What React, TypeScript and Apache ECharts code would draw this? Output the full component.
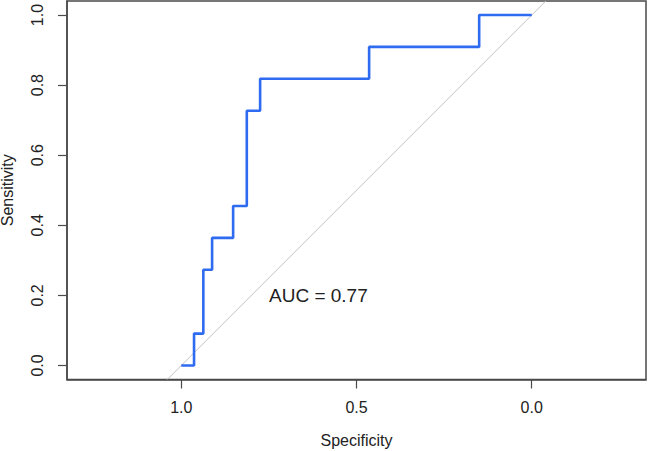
import React, { useEffect, useRef } from "react";
import * as echarts from "echarts";

// ROC curve corner points (specificity decreasing, sensitivity increasing)
const specificity = [1.0, 0.9635, 0.937, 0.912, 0.852, 0.813, 0.775, 0.464, 0.15, 0.0];
const sensitivity = [0.0, 0.091, 0.273, 0.364, 0.455, 0.727, 0.818, 0.909, 1.0, 1.0];

// Chance line endpoints (spans the full plot range)
const chanceSpec = [1.04, -0.04];
const chanceSens = [-0.04, 1.04];

const xTicks = [0, 0.5, 1.0];
const yTicks = [0, 0.2, 0.4, 0.6, 0.8, 1.0];
const aucLabel = "AUC = 0.77";

const FONT = "'Liberation Sans', Arial, Helvetica, sans-serif";
const AXIS_COLOR = "#4a4a4a";
const TEXT_COLOR = "#222";

export default function App() {
  const ref = useRef<HTMLDivElement>(null);

  useEffect(() => {
    if (!ref.current) return;
    const chart = echarts.init(ref.current, undefined, { renderer: "svg" });
    const roc = specificity.map((s, i) => [s, sensitivity[i]]);
    const chance = chanceSpec.map((s, i) => [s, chanceSens[i]]);

    chart.setOption({
      animation: false,
      backgroundColor: "#fff",
      grid: {
        left: 67,
        right: 2,
        top: 1,
        bottom: 71.5,
        containLabel: false,
        outerBoundsMode: "none",
        show: true,
        borderColor: AXIS_COLOR,
        borderWidth: 1.5,
        backgroundColor: "transparent",
      },
      xAxis: {
        type: "value",
        inverse: true,
        min: -0.326,
        max: 1.326,
        name: "Specificity",
        nameLocation: "middle",
        nameGap: 53,
        nameTextStyle: { fontFamily: FONT, fontSize: 16, color: TEXT_COLOR },
        axisLine: { show: true, onZero: false, lineStyle: { color: AXIS_COLOR, width: 1.5 } },
        axisTick: {
          show: true,
          length: 9,
          customValues: xTicks,
          lineStyle: { color: AXIS_COLOR, width: 1.2 },
        },
        axisLabel: {
          customValues: xTicks,
          margin: 20,
          fontFamily: FONT,
          fontSize: 16,
          color: TEXT_COLOR,
          formatter: (v: number) => v.toFixed(1),
        },
        splitLine: { show: false },
      },
      yAxis: {
        type: "value",
        min: -0.04,
        max: 1.04,
        name: "Sensitivity",
        nameLocation: "middle",
        nameRotate: 90,
        nameGap: 52,
        nameTextStyle: { fontFamily: FONT, fontSize: 16, color: TEXT_COLOR },
        axisLine: { show: true, onZero: false, lineStyle: { color: AXIS_COLOR, width: 1.5 } },
        axisTick: {
          show: true,
          length: 9,
          customValues: yTicks,
          lineStyle: { color: AXIS_COLOR, width: 1.2 },
        },
        axisLabel: {
          customValues: yTicks,
          rotate: 90,
          margin: 22,
          fontFamily: FONT,
          fontSize: 16,
          color: TEXT_COLOR,
          formatter: (v: number) => v.toFixed(1),
        },
        splitLine: { show: false },
      },
      series: [
        {
          type: "line",
          data: chance,
          symbol: "none",
          silent: true,
          lineStyle: { color: "#c0c0c0", width: 1 },
          z: 2,
        },
        {
          type: "line",
          data: roc,
          step: "end",
          symbol: "none",
          lineStyle: { color: "#2f6bf0", width: 2.6 },
          z: 3,
        },
      ],
      graphic: [
        {
          type: "text",
          left: 269,
          top: 286,
          style: {
            text: aucLabel,
            fontFamily: FONT,
            fontSize: 19,
            fill: TEXT_COLOR,
          },
        },
      ],
    });

    return () => chart.dispose();
  }, []);

  return (
    <div
      ref={ref}
      style={{ position: "fixed", left: 0, top: 0, width: 648, height: 451 }}
    />
  );
}
